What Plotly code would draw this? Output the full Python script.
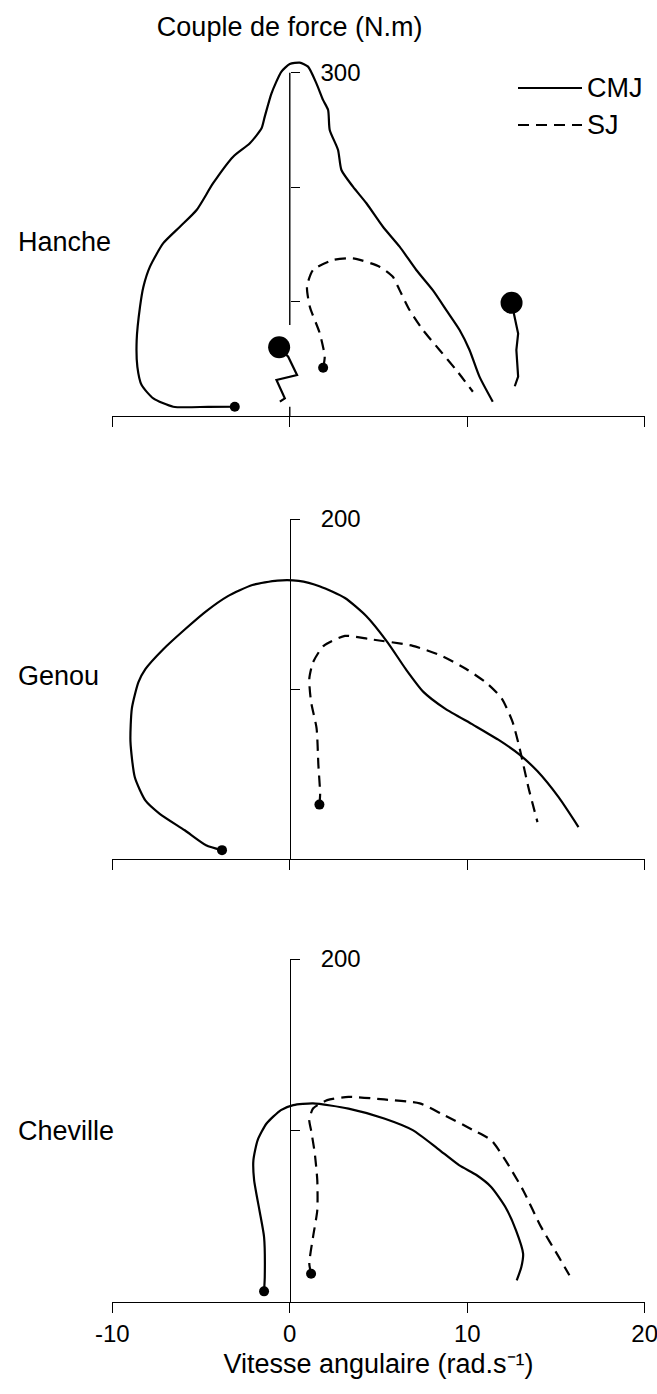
import plotly.graph_objects as go

W, H = 657, 1394

# ---------------- data ----------------
x_ticks = [-10, 0, 10, 20]
x_tick_text = ["-10", "0", "10", "20"]

# Hanche (hip)
hanche_cmj_x = [-3.10, -4.6, -6.57, -7.69, -8.35, -8.59, -8.63, -8.44, -8.25, -7.88, -7.13, -6.19,
                -5.25, -4.32, -3.19, -2.25, -1.59, -1.41, -1.03, -0.47, 0.0, 0.56, 1.03, 1.50,
                1.88, 2.16, 2.25, 2.72, 2.91, 3.56, 4.32, 5.25, 6.19, 7.13, 8.06, 8.82, 9.57,
                10.13, 10.69, 11.44]
hanche_cmj_y = [8.1, 8.0, 8.1, 15.4, 27, 43, 66, 95.5, 113, 130.5, 151, 165.4,
                180, 203.4, 226.6, 238.3, 251.4, 261.6, 282, 301, 307.6, 308.8, 305.3, 290.7,
                276, 267.4, 250, 232.5, 215, 200.4, 185.9, 165.4, 148, 127.6, 110, 92.6, 75.2,
                57.7, 34.4, 12.5]

hanche_sj_x = [1.88, 1.97, 1.69, 1.13, 0.97, 1.31, 2.44, 3.56, 5.06, 5.81, 6.19, 6.75, 7.50, 8.44,
               9.38, 10.32]
hanche_sj_y = [42.2, 51.8, 72.3, 95.5, 113, 127.6, 136.3, 137.8, 130.5, 121.7, 110, 92.6, 75.2,
               57.7, 40.2, 21.2]

hanche_fig1_x = [-0.60, -0.09, 0.41, -0.75, -0.28, -0.56]
hanche_fig1_y = [60, 51.8, 35.8, 31.5, 15.4, 12.5]
hanche_fig2_x = [12.5, 12.7, 12.87, 12.77, 12.87, 12.68]
hanche_fig2_y = [99, 84, 72, 57.7, 34.4, 26]

# Genou (knee)
genou_cmj_x = [-3.82, -4.72, -5.92, -7.33, -8.13, -8.73, -8.98, -8.90, -8.53, -8.13, -7.13, -5.92,
               -4.72, -3.51, -2.11, -0.70, 0.50, 1.71, 3.11, 4.32, 5.52, 6.53, 7.53, 8.73, 10.34,
               11.75, 12.95, 13.95, 15.16, 16.27]
genou_cmj_y = [5.2, 8.1, 16.9, 26.6, 34.3, 47.9, 69.2, 88.6, 104, 111.8, 123.4, 135,
               145.7, 154.5, 161.2, 163.8, 163.6, 160.3, 153.5, 142.8, 127.3, 111.8, 98.3, 88.6,
               78.9, 70.2, 61.4, 51.7, 36.2, 18.8]

genou_sj_x = [1.67, 1.71, 1.61, 1.51, 1.20, 1.10, 1.31, 1.91, 3.11, 4.52, 6.93, 8.53, 9.94, 11.14,
              11.95, 12.55, 12.95, 13.45, 13.96]
genou_sj_y = [32, 38.2, 55.6, 76.9, 92.4, 106, 115.7, 125.4, 131.2, 129.3, 125.4, 119.6, 111.8,
              103.1, 94.4, 80.8, 65.3, 42.1, 21.7]

# Cheville (ankle)
cheville_cmj_x = [-1.45, -1.41, -1.45, -1.71, -2.01, -2.05, -1.81, -1.31, -0.50, 0.20, 1.31, 3.31,
                  5.32, 6.93, 8.33, 9.54, 10.54, 11.35, 12.15, 12.75, 13.15, 13.05, 12.79]
cheville_cmj_y = [6.2, 14.6, 37.9, 53.5, 71, 82.7, 94.4, 104.1, 111.9, 114.8, 115.8, 112.8,
                  107, 100.2, 89.5, 79.8, 73.9, 67.1, 55.4, 41.8, 28.2, 20.4, 12.6]

cheville_sj_x = [1.20, 1.10, 1.31, 1.55, 1.55, 1.41, 1.20, 1.10, 1.31, 2.11, 3.31, 5.32, 7.33,
                 8.53, 10.34, 11.35, 12.15, 13.15, 14.16, 15.16, 15.76]
cheville_sj_y = [16.5, 22.4, 37.9, 53.5, 71, 86.6, 100.2, 106, 112.8, 117.7, 119.6, 118.1, 115.8,
                 109.9, 100.2, 94.4, 82.7, 65.2, 43.8, 26.3, 15.6]

panel_names = ["Hanche", "Genou", "Cheville"]
y_label_vals = [300, 200, 200]          # labelled y ticks
y_minor_vals = [[100, 200], [100], [100]]  # unlabelled y ticks
series_names = ["CMJ", "SJ"]

# ---------------- layout geometry (pixels) ----------------
X_PX = (112, 645)          # pixel positions of x=-10 and x=20
X_RANGE = [-10, 20]
# (pixel of y=0, pixel of top tick, top tick value, top of range)
panel_px = [(416, 72.7, 300, 320), (859, 519, 200, 200), (1302, 959, 200, 200)]
label_px = [242, 676, 1131]

FONT = "Liberation Sans, Arial, sans-serif"
LBL = 27
LW = 2.2
AXW = 1.4
DASH = "11px,7px"

x_dom = [X_PX[0] / W, X_PX[1] / W]
x0_paper = x_dom[0] + (0 - X_RANGE[0]) / (X_RANGE[1] - X_RANGE[0]) * (x_dom[1] - x_dom[0])
x_rng = [X_RANGE[0] - 0.02, X_RANGE[1] + 0.02]

fig = go.Figure()

data = [
    (hanche_cmj_x, hanche_cmj_y, hanche_sj_x, hanche_sj_y),
    (genou_cmj_x, genou_cmj_y, genou_sj_x, genou_sj_y),
    (cheville_cmj_x, cheville_cmj_y, cheville_sj_x, cheville_sj_y),
]

layout_axes = {}
for i, (zero_px, top_px, top_val, rng_top) in enumerate(panel_px):
    ppu = (zero_px - top_px) / top_val
    top_edge = zero_px - rng_top * ppu
    dom = [1 - zero_px / H, 1 - top_edge / H]
    sfx = "" if i == 0 else str(i + 1)
    xa, ya = "x" + sfx, "y" + sfx
    last = i == 2
    xax = dict(
        domain=x_dom, range=x_rng, anchor=ya, showgrid=False, zeroline=False,
        showline=True, linecolor="black", linewidth=AXW,
        ticks="outside", ticklen=10, tickwidth=AXW, tickcolor="black",
        tickmode="array", tickvals=x_ticks, showticklabels=last,
        automargin=False, fixedrange=True,
    )
    if last:
        xax.update(ticktext=x_tick_text, ticklabeloverflow="allow",
                   tickfont=dict(family=FONT, size=24, color="black"),
                   title=dict(text="Vitesse angulaire (rad.s⁻¹)",
                              font=dict(family=FONT, size=LBL, color="black"), standoff=8))
    layout_axes["xaxis" + sfx] = xax
    layout_axes["yaxis" + sfx] = dict(
        domain=dom, range=[0, rng_top], anchor="free", position=x0_paper, side="right",
        showgrid=False, zeroline=False,
        showline=(i != 0), linecolor="black", linewidth=AXW,
        ticks="outside", ticklen=9, tickwidth=AXW, tickcolor="black",
        tickmode="array", tickvals=[y_label_vals[i]], ticktext=[str(y_label_vals[i])],
        ticklabelstandoff=16,
        minor=dict(tickmode="array", tickvals=y_minor_vals[i], ticks="outside", ticklen=9,
                   tickwidth=AXW, tickcolor="black", showgrid=False),
        tickfont=dict(family=FONT, size=24, color="black"),
        automargin=False, fixedrange=True,
    )
    cx, cy, sx, sy = data[i]
    fig.add_trace(go.Scatter(x=cx, y=cy, xaxis=xa, yaxis=ya, mode="lines", name=series_names[0],
                             line=dict(color="black", width=LW, shape="spline", smoothing=0.6),
                             showlegend=False))
    fig.add_trace(go.Scatter(x=sx, y=sy, xaxis=xa, yaxis=ya, mode="lines", name=series_names[1],
                             line=dict(color="black", width=LW, dash=DASH, shape="spline", smoothing=0.6),
                             showlegend=False))
    fig.add_trace(go.Scatter(x=[cx[0], sx[0]], y=[cy[0], sy[0]], xaxis=xa, yaxis=ya, mode="markers",
                             marker=dict(color="black", size=10), cliponaxis=False, showlegend=False,
                             hoverinfo="skip"))
    fig.add_annotation(text=panel_names[i], xref="paper", yref="paper", x=16 / W, y=1 - label_px[i] / H,
                       xanchor="left", yanchor="middle", showarrow=False,
                       font=dict(family=FONT, size=LBL, color="black"))

# Hanche: jumper figures (large dots with lines)
for fx, fy in [(hanche_fig1_x, hanche_fig1_y), (hanche_fig2_x, hanche_fig2_y)]:
    fig.add_trace(go.Scatter(x=fx, y=fy, xaxis="x", yaxis="y", mode="lines",
                             line=dict(color="black", width=LW), showlegend=False, hoverinfo="skip"))
    fig.add_trace(go.Scatter(x=fx[:1], y=fy[:1], xaxis="x", yaxis="y", mode="markers",
                             marker=dict(color="black", size=22), cliponaxis=False,
                             showlegend=False, hoverinfo="skip"))

# Hanche y axis line (interrupted behind the first figure)
for y0, y1 in [(0, 8), (79.5, 300)]:
    fig.add_shape(type="line", xref="x", yref="y", x0=0, x1=0, y0=y0, y1=y1,
                  line=dict(color="black", width=AXW))

# Legend (drawn manually for long line samples)
for j, (name, ypx, dash) in enumerate([("CMJ", 88, "solid"), ("SJ", 125, DASH)]):
    fig.add_shape(type="line", xref="paper", yref="paper", x0=518 / W, x1=582 / W,
                  y0=1 - ypx / H, y1=1 - ypx / H, line=dict(color="black", width=LW, dash=dash))
    fig.add_annotation(text=name, xref="paper", yref="paper", x=585 / W, y=1 - ypx / H,
                       xanchor="left", yanchor="middle", showarrow=False,
                       font=dict(family=FONT, size=LBL, color="black"))

fig.update_layout(
    width=W, height=H, margin=dict(l=0, r=0, t=0, b=0),
    paper_bgcolor="white", plot_bgcolor="white",
    showlegend=False, font=dict(family=FONT, color="black"),
    title=dict(text="Couple de force (N.m)", x=x0_paper, xanchor="center", xref="paper",
               y=1 - 27 / H, yanchor="middle", yref="container",
               font=dict(family=FONT, size=LBL, color="black")),
    **layout_axes,
)

fig.write_html("out.html", config={"displayModeBar": False},
               post_script="document.body.style.margin='0';document.body.style.overflow='hidden';")
